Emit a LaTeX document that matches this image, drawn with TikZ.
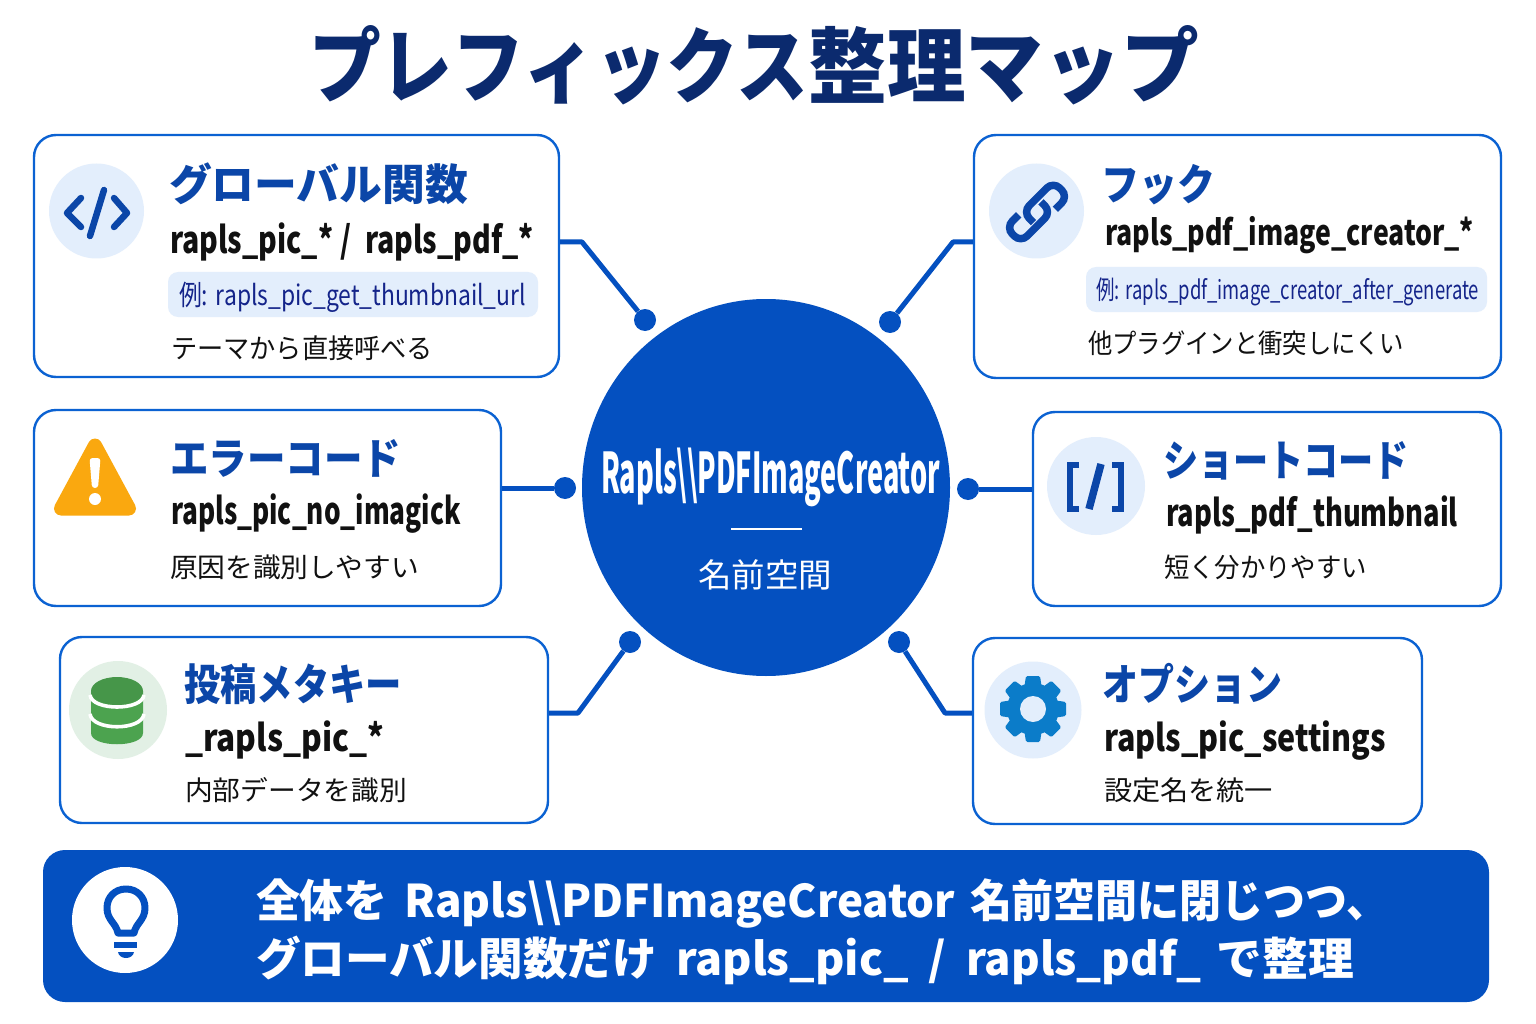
\documentclass[tikz,border=0pt]{standalone}
\usepackage{fontspec}
\usepackage{graphicx}
\usetikzlibrary{shapes.geometric}
\setmainfont{Noto Sans CJK JP}
\definecolor{navy}{HTML}{0B2A6E}
\definecolor{hub}{HTML}{0450C0}
\definecolor{edge}{HTML}{0B62D2}
\definecolor{ttlblue}{HTML}{0B46A8}
\definecolor{pale}{HTML}{E3EEFC}
\definecolor{paleg}{HTML}{E2F0E5}
\definecolor{pilltxt}{HTML}{14248A}
\definecolor{ink}{HTML}{111111}
\definecolor{warn}{HTML}{FAA80F}
\definecolor{dbg}{HTML}{4CA34F}
\definecolor{gear}{HTML}{0B7CC9}
\newcommand{\fitw}[2]{\resizebox{#1pt}{\height}{#2}}
\newcommand{\fsz}[1]{\fontsize{#1}{#1}\selectfont}
\newcommand{\hs}[2]{\scalebox{#1}[1]{#2}}
\tikzset{
  card/.style={draw=edge,line width=2.4pt,rounded corners=22pt,fill=white,inner sep=0pt},
  lbl/.style={anchor=base west,inner sep=0pt,outer sep=0pt},
  headt/.style={lbl,text=navy,font=\bfseries\fsz{82}},
  ttl/.style={lbl,text=ttlblue,font=\bfseries\fsz{43}},
  code/.style={lbl,text=ink,font=\bfseries\fsz{37}},
  desc/.style={lbl,text=ink,font=\fsz{27}},
  pilltext/.style={lbl,text=pilltxt,font=\fsz{28}},
  pill/.style={fill=pale,rounded corners=10pt,inner sep=0pt},
  bul/.style={circle,fill=hub,inner sep=0pt,minimum size=22pt},
  wire/.style={draw=hub,line width=5pt,line join=round},
  bann/.style={lbl,text=white,font=\bfseries\fsz{45}},
  iconline/.style={draw=ttlblue,line cap=round,line join=round},
  chainh/.style={draw=pale,line width=11pt,rounded corners=9pt},
  chainl/.style={draw=ttlblue,line width=7.5pt,rounded corners=9pt},
}
\begin{document}
\begin{tikzpicture}[x=1pt,y=-1pt]
\useasboundingbox (0,0) rectangle (1536,1024);
\fill[white] (0,0) rectangle (1536,1024);
% title
\node[headt] (head) at (309,97) {\fitw{890}{\hs{.97}{プレフィックス}\hs{1.06}{整理}\hs{1.05}{マップ}}};
% cards
\node[card,minimum width=525pt,minimum height=242pt] (boxA) at (296.5,256) {};
\node[card,minimum width=527pt,minimum height=243pt] (boxB) at (1237.5,256.5) {};
\node[card,minimum width=467pt,minimum height=196pt] (boxC) at (267.5,508) {};
\node[card,minimum width=468pt,minimum height=194pt] (boxD) at (1267,509) {};
\node[card,minimum width=488pt,minimum height=186pt] (boxE) at (304,730) {};
\node[card,minimum width=449pt,minimum height=186pt] (boxF) at (1197.5,731) {};
% hub
\node[ellipse,fill=hub,minimum width=368pt,minimum height=377pt,inner sep=0pt] (hubc) at (766,487.5) {};
\node[lbl,text=white,font=\bfseries\fsz{56}] (hubt) at (601,493) {\fitw{339}{Rapls\textbackslash\textbackslash PDFImageCreator}};
\coordinate (ruleL) at (731,529);
\coordinate (ruleR) at (802,529);
\draw[white,line width=2pt] (ruleL) -- (ruleR);
\node[lbl,text=white,font=\fsz{33}] (hubs) at (698,587) {\fitw{134}{名前空間}};
% dots
\node[bul] (dA) at (645,320) {};
\node[bul] (dB) at (890,322) {};
\node[bul] (dC) at (565,488) {};
\node[bul] (dD) at (968,489) {};
\node[bul] (dE) at (630,642) {};
\node[bul] (dF) at (899,642) {};
\coordinate (kA) at (582,242);
\coordinate (kB) at (953,242);
\coordinate (kE) at (578,713);
\coordinate (kF) at (945,713);
\draw[wire] (boxA.east |- kA) -- (kA) -- (dA);
\draw[wire] (boxB.west |- kB) -- (kB) -- (dB);
\draw[wire] (boxC.east |- dC) -- (dC);
\draw[wire] (boxD.west |- dD) -- (dD);
\draw[wire] (boxE.east |- kE) -- (kE) -- (dE);
\draw[wire] (boxF.west |- kF) -- (kF) -- (dF);
% A
\fill[pale] (96.5,211) circle[radius=47.5];
\draw[iconline,line width=6.5pt] (81,198) -- (67,213) -- (81,227);
\draw[iconline,line width=6.5pt] (114,198) -- (127,213) -- (114,227);
\draw[iconline,line width=6.5pt] (104,190) -- (90,236);
\node[ttl] (tA) at (169,201) {\fitw{299}{グローバル関数}};
\node[code] (cA) at (170,254) {\fitw{364}{rapls\_pic\_*\kern9pt/\kern18pt rapls\_pdf\_*}};
\node[pill,minimum width=370pt,minimum height=45pt] (pA) at (353,294.5) {};
\node[pilltext] (xA) at (179,305.5) {\fitw{347}{例:\kern3pt\ rapls\_pic\_get\_thumbnail\_url}};
\node[desc] (dsA) at (171,358) {\fitw{262}{テーマから直接呼べる}};
% B
\fill[pale] (1036.5,211) circle[radius=47.5];
\begin{scope}[shift={(1037,212)},rotate=45]
  \draw[chainh] (-15,-11) -- (-33,-11) -- (-33,10) -- (10,10) -- (10,-5);
  \draw[chainl] (-15,-11) -- (-33,-11) -- (-33,10) -- (10,10) -- (10,-5);
  \draw[chainh] (15,11) -- (33,11) -- (33,-10) -- (-10,-10) -- (-10,5);
  \draw[chainl] (15,11) -- (33,11) -- (33,-10) -- (-10,-10) -- (-10,5);
\end{scope}
\node[ttl] (tB) at (1101,201) {\fitw{114}{フック}};
\node[code,font=\bfseries\fsz{35}] (cB) at (1105,246) {\fitw{369}{rapls\_pdf\_image\_creator\_*}};
\node[pill,minimum width=401pt,minimum height=45pt] (pB) at (1286.5,289.5) {};
\node[pilltext,font=\fsz{26}] (xB) at (1096,299.5) {\fitw{383}{例:\kern3pt\ rapls\_pdf\_image\_creator\_after\_generate}};
\node[desc] (dsB) at (1088,353) {\fitw{316}{他プラグインと衝突しにくい}};
% C
\filldraw[fill=warn,draw=warn,line width=14pt,line join=round] (95,445.5) -- (61,508.5) -- (129,508.5) -- cycle;
\fill[white,rounded corners=3pt] (89.5,458) -- (100.5,458) -- (98,488) -- (92,488) -- cycle;
\fill[white] (95,499) circle[radius=6];
\node[ttl] (tC) at (170,474) {\fitw{231}{エラーコード}};
\node[code] (cC) at (171,524) {\fitw{290}{rapls\_pic\_no\_imagick}};
\node[desc] (dsC) at (170,577) {\fitw{249}{原因を識別しやすい}};
% D
\fill[pale] (1096,486) circle[radius=49];
\draw[draw=ttlblue,line width=6.5pt,line join=miter] (1079,465) -- (1070,465) -- (1070,509) -- (1079,509);
\draw[draw=ttlblue,line width=6.5pt,line join=miter] (1112,465) -- (1121,465) -- (1121,509) -- (1112,509);
\draw[draw=ttlblue,line width=7.5pt] (1101,464) -- (1089,509);
\node[ttl] (tD) at (1163,476) {\fitw{246}{ショートコード}};
\node[code] (cD) at (1166,526) {\fitw{292}{rapls\_pdf\_thumbnail}};
\node[desc] (dsD) at (1164,577) {\fitw{203}{短く分かりやすい}};
% E
\fill[paleg] (118,710) circle[radius=49];
\fill[dbg] (91,691) -- (143,691) -- (143,733) .. controls (143,748) and (91,748) .. (91,733) -- cycle;
\fill[dbg!92!black] (117,691) ellipse[x radius=26,y radius=14];
\draw[white,line width=3.6pt] (90,695) .. controls (92,711) and (142,711) .. (144,695);
\draw[white,line width=3.6pt] (90,714) .. controls (92,731) and (142,731) .. (144,714);
\node[ttl] (tE) at (184,700) {\fitw{218}{投稿メタキー}};
\node[code] (cE) at (185,751) {\fitw{199}{\_rapls\_pic\_*}};
\node[desc] (dsE) at (185,800) {\fitw{222}{内部データを識別}};
% F
\fill[pale] (1033,710) circle[radius=48.5];
\begin{scope}[shift={(1033,709)}]
  \fill[gear] (0,0) circle[radius=26];
  \foreach \a in {0,45,...,315}{
    \fill[gear,rotate=\a,rounded corners=1.5pt] (-9,-20) -- (-7,-33) -- (7,-33) -- (9,-20) -- cycle;
  }
  \fill[pale] (0,0) circle[radius=13];
\end{scope}
\node[ttl] (tF) at (1102,700) {\fitw{180}{オプション}};
\node[code] (cF) at (1104,751) {\fitw{282}{rapls\_pic\_settings}};
\node[desc] (dsF) at (1104,800) {\fitw{169}{設定名を統一}};
% banner
\node[fill=hub,rounded corners=22pt,minimum width=1446pt,minimum height=152pt,inner sep=0pt] (ban) at (766,926) {};
\fill[white] (125,920) circle[radius=53];
\draw[draw=hub,line width=7pt,line join=round] (118,933) .. controls (116,923) and (107,920) .. (107,908) .. controls (107,897) and (115,889) .. (126,889) .. controls (137,889) and (145,897) .. (145,908) .. controls (145,920) and (136,923) .. (134,933) -- cycle;
\fill[hub] (114,942) rectangle (137,948);
\fill[hub] (118,952) -- (134,952) .. controls (133,960) and (119,960) .. (118,952) -- cycle;
\node[bann] (b1) at (256,917) {\fitw{1132}{全体を\kern17pt Rapls\textbackslash\textbackslash PDFImageCreator\kern15pt \hs{.955}{名前空間に閉じつつ、}}};
\node[bann] (b2) at (256,975) {\fitw{1098}{\hs{.975}{グローバル関数だけ}\kern19pt \hs{.98}{rapls\_pic\_}\kern19pt /\kern20pt \hs{.955}{rapls\_pdf\_}\kern15pt で整理}};
\end{tikzpicture}
\end{document}
